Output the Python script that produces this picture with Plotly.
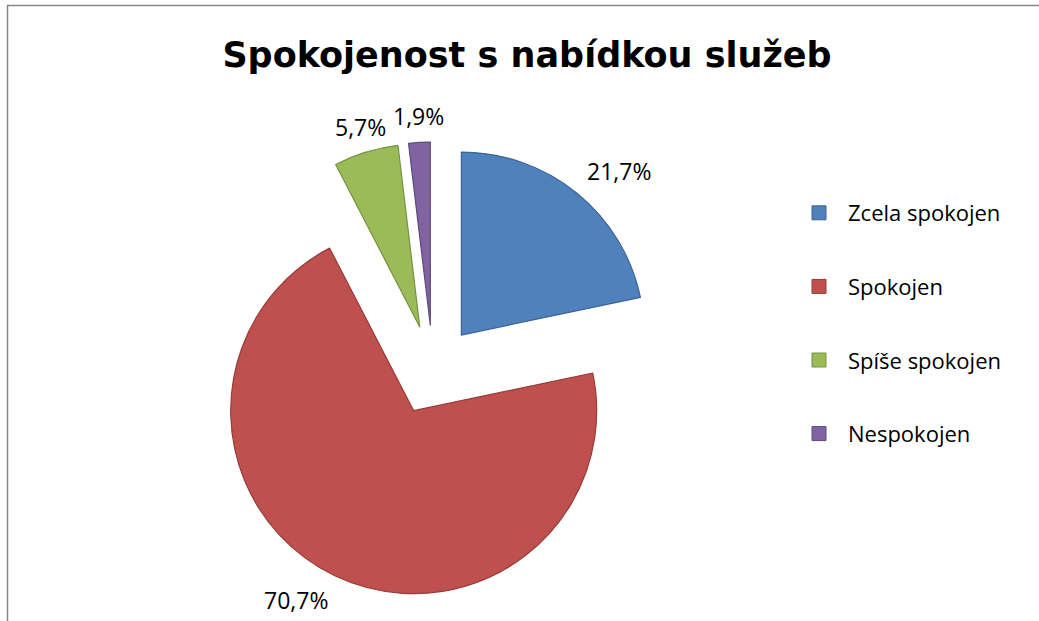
import math
import plotly.graph_objects as go

categories = ["Zcela spokojen", "Spokojen", "Spíše spokojen", "Nespokojen"]
values = [21.7, 70.7, 5.7, 1.9]
fill_colors = ["#4F81BD", "#C0504D", "#9BBB59", "#8064A2"]
line_colors = ["#3A6595", "#943C3A", "#76923F", "#5F4A7C"]
title_text = "Spokojenost s nabídkou služeb"

W, H = 1039, 621
FONT = "Open Sans, Noto Sans, sans-serif"
LABEL_SIZE = 23
PULL = 0.246
DOM_X = (205, 661)   # pie box in pixels (left, right)
DOM_Y = (142, 598)   # pie box in pixels (top, bottom)
LABEL_GAP = 17

labels_txt = [f"{v:.1f}".replace(".", ",") + "%" for v in values]

fig = go.Figure()
fig.add_trace(go.Pie(
    labels=categories,
    values=values,
    text=labels_txt,
    textinfo="none",
    marker=dict(colors=fill_colors, line=dict(color=line_colors, width=1.2)),
    pull=[PULL] * len(values),
    sort=False,
    direction="clockwise",
    rotation=0,
    showlegend=False,
    domain=dict(x=[DOM_X[0] / W, DOM_X[1] / W], y=[1 - DOM_Y[1] / H, 1 - DOM_Y[0] / H]),
    hoverinfo="label+text",
))

for cat, fc, lc in zip(categories, fill_colors, line_colors):
    fig.add_trace(go.Scatter(
        x=[None], y=[None], mode="markers", name=cat, legendgroup=cat,
        marker=dict(symbol="square", size=14, color=fc, line=dict(color=lc, width=1)),
    ))

# outside-end data labels, positioned from the slice angles
cx = (DOM_X[0] + DOM_X[1]) / 2
cy = (DOM_Y[0] + DOM_Y[1]) / 2
r = (DOM_X[1] - DOM_X[0]) / 2 / (1 + PULL)
total = sum(values)
annotations = []
cum = 0.0
for v, t in zip(values, labels_txt):
    mid = (cum + v / 2) / total * 2 * math.pi
    cum += v
    s, c = math.sin(mid), math.cos(mid)
    rad = r * (1 + PULL) + LABEL_GAP
    px = cx + s * rad
    py = cy - c * rad
    half_w = len(t) * 0.557 * LABEL_SIZE / 2
    half_h = 0.39 * LABEL_SIZE
    sx = 1 if s > 0.35 else (-1 if s < -0.35 else 0)
    sy = 1 if c > 0.35 else (-1 if c < -0.35 else 0)
    px += sx * half_w
    py -= sy * half_h
    annotations.append(dict(
        x=px / W, y=1 - py / H, xref="paper", yref="paper", text=t, showarrow=False,
        xanchor="center", yanchor="middle", font=dict(family=FONT, size=LABEL_SIZE, color="#000000"),
    ))

fig.update_layout(
    width=W, height=H,
    margin=dict(l=0, r=0, t=0, b=0, autoexpand=False),
    paper_bgcolor="white", plot_bgcolor="white",
    xaxis=dict(visible=False), yaxis=dict(visible=False),
    title=dict(text=f"<b>{title_text}</b>", x=527 / W, xanchor="center", y=1 - 55 / H, yanchor="middle",
               font=dict(family="DejaVu Sans, sans-serif", size=35, color="#000000")),
    legend=dict(x=790 / W, y=1 - 192 / H, xanchor="left", yanchor="top",
                font=dict(family=FONT, size=22, color="#000000"),
                tracegroupgap=42, itemwidth=48, bgcolor="rgba(0,0,0,0)"),
    annotations=annotations,
    shapes=[dict(type="rect", xref="paper", yref="paper", x0=7.5 / W, x1=1.05, y0=-0.05, y1=1 - 5.5 / H,
                 line=dict(color="#868686", width=1.5), fillcolor="rgba(0,0,0,0)", layer="below")],
)

fig.write_html("out.html", config={"displayModeBar": False}, post_script="document.body.style.margin='0';")
